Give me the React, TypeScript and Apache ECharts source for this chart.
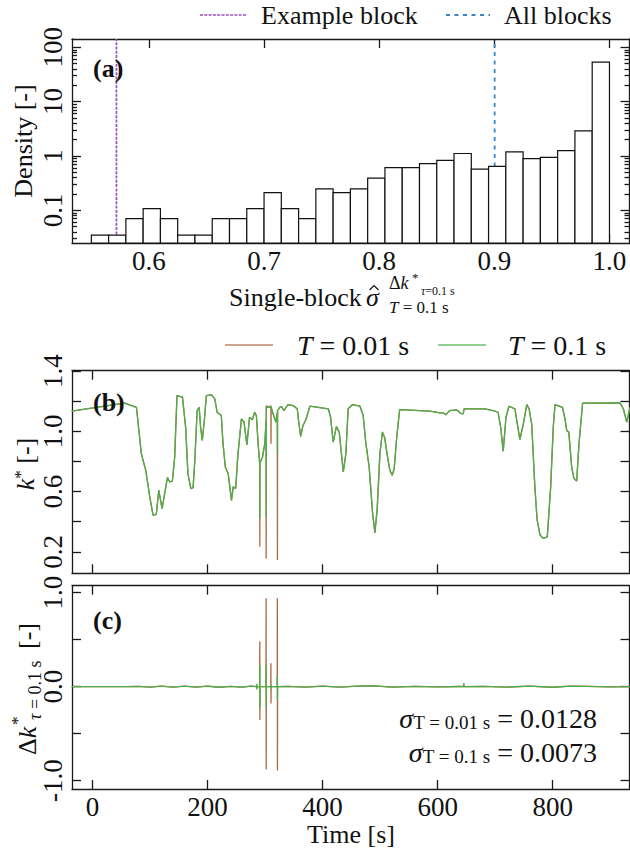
import React, { useEffect, useRef } from "react";
import * as echarts from "echarts";

const FONT = "'Liberation Serif', 'Times New Roman', Times, serif";
const INK = "#111111";

// ---------------- Panel (a): histogram ----------------
const binEdges = [
  0.55, 0.565, 0.58, 0.595, 0.61, 0.625, 0.64, 0.655, 0.67, 0.685, 0.7, 0.715,
  0.73, 0.745, 0.76, 0.775, 0.79, 0.805, 0.82, 0.835, 0.85, 0.865, 0.88, 0.895,
  0.91, 0.925, 0.94, 0.955, 0.97, 0.985, 1.0,
];
const densities = [
  0.035, 0.035, 0.07, 0.107, 0.07, 0.035, 0.035, 0.07, 0.07, 0.107, 0.212, 0.107,
  0.07, 0.248, 0.212, 0.248, 0.392, 0.61, 0.61, 0.72, 0.83, 1.11, 0.57, 0.645,
  1.185, 0.893, 0.945, 1.25, 2.9, 53.5,
];
const exampleBlockValue = 0.5718;
const allBlocksValue = 0.9003;
const ratioTicks = [0.6, 0.7, 0.8, 0.9, 1.0];
const densityTicks = [0.1, 1, 10, 100];
const densityMinorTicks = [
  0.03, 0.04, 0.05, 0.06, 0.07, 0.08, 0.09, 0.2, 0.3, 0.4, 0.5, 0.6, 0.7, 0.8,
  0.9, 2, 3, 4, 5, 6, 7, 8, 9, 20, 30, 40, 50, 60, 70, 80, 90,
];

// ---------------- Panel (b): k* time series ----------------
const timeTicks = [0, 200, 400, 600, 800];
const kTicks = [0.2, 0.4, 0.6, 0.8, 1.0, 1.2, 1.4];
const kLabels = [0.2, 0.6, 1.0, 1.4];
const tK = [
  -36, 56, 76.5, 82, 85, 92.7, 99.7, 105.4, 111, 115.3, 121, 130.4, 134.4, 139, 143,
  147, 156.5, 162, 166, 171, 175, 178, 182, 185.5, 188, 191, 195, 198, 207, 212.7,
  216.7, 220, 224, 227, 231, 236, 241.7, 244.6, 249, 253, 259, 263.5, 268.5, 273,
  278, 282, 285, 288, 290.8, 291.0, 291.2, 295.6, 299.6, 301.8, 302.0, 302.2, 307,
  310.2, 310.4, 310.6, 314, 319, 321.4, 321.6, 321.8, 325.7, 328.6, 332.7, 340, 349,
  356, 359, 362, 366, 371, 378, 410, 414, 418.5, 424, 429, 436, 440.5, 444.5, 452,
  465, 470.6, 475, 481, 487, 491, 495, 499.7, 504, 508, 512, 517, 521, 524.5, 528.7,
  534, 586.6, 604, 609.7, 614, 621, 633, 640, 644.5, 646, 682, 696.7, 705, 709.6, 714,
  718.8, 724, 734.4, 738.5, 743, 749, 755, 759, 763.5, 769, 773, 778, 783.6, 790.6,
  796.5, 801, 804, 817, 821.4, 824.3, 828, 833, 837, 841.7, 845.7, 852, 917, 922.8,
  928.7, 934.5,
];
// T = 0.1 s
const kT01 = [
  1.134, 1.187, 1.16, 0.962, 0.852, 0.741, 0.564, 0.443, 0.449, 0.609, 0.487, 0.693,
  0.664, 0.67, 0.829, 1.238, 1.227, 1.028, 0.719, 0.62, 0.626, 0.807, 1.138, 1.16,
  1.028, 0.94, 1.094, 1.238, 1.242, 1.216, 1.127, 1.117, 1.105, 0.918, 0.763, 0.719,
  0.542, 0.631, 0.62, 0.852, 1.083, 1.062, 0.91, 1.094, 1.077, 1.127, 1.105, 0.918,
  0.785, 0.42, 0.79, 0.829, 0.918, 1.07, 0.43, 1.16, 1.16, 1.165, 1.165, 1.16, 1.117,
  1.061, 1.127, 0.85, 1.14, 1.16, 1.165, 1.138, 1.178, 1.171, 1.15, 1.05, 0.966,
  1.039, 1.077, 1.167, 1.15, 1.094, 0.928, 1.032, 0.995, 0.73, 0.852, 1.15, 1.178,
  1.167, 1.105, 0.928, 0.763, 0.454, 0.326, 0.487, 0.852, 0.995, 0.958, 0.852, 0.741,
  0.708, 0.752, 0.951, 1.145, 1.134, 1.123, 1.123, 1.11, 1.138, 1.143, 1.12, 1.117,
  1.15, 1.15, 1.138, 1.127, 1.028, 0.869, 1.094, 1.167, 1.15, 1.05, 0.946, 1.05,
  1.178, 1.15, 1.05, 0.631, 0.41, 0.311, 0.289, 0.299, 0.631, 1.028, 1.178, 1.16,
  1.083, 1.006, 0.995, 0.763, 0.686, 0.67, 0.918, 1.187, 1.189, 1.15, 1.061, 1.16,
];
// T = 0.01 s (same trace, deeper spikes)
const kT001 = [
  1.134, 1.187, 1.16, 0.962, 0.852, 0.741, 0.564, 0.443, 0.449, 0.609, 0.487, 0.693,
  0.664, 0.67, 0.829, 1.238, 1.227, 1.028, 0.719, 0.62, 0.626, 0.807, 1.138, 1.16,
  1.028, 0.94, 1.094, 1.238, 1.242, 1.216, 1.127, 1.117, 1.105, 0.918, 0.763, 0.719,
  0.542, 0.631, 0.62, 0.852, 1.083, 1.062, 0.91, 1.094, 1.077, 1.127, 1.105, 0.918,
  0.785, 0.233, 0.79, 0.829, 0.918, 1.07, 0.156, 1.17, 1.16, 1.17, 0.918, 1.16, 1.117,
  1.061, 1.127, 0.145, 1.14, 1.16, 1.165, 1.138, 1.178, 1.171, 1.15, 1.05, 0.966,
  1.039, 1.077, 1.167, 1.15, 1.094, 0.928, 1.032, 0.995, 0.73, 0.852, 1.15, 1.178,
  1.167, 1.105, 0.928, 0.763, 0.454, 0.326, 0.487, 0.852, 0.995, 0.958, 0.852, 0.741,
  0.708, 0.752, 0.951, 1.145, 1.134, 1.123, 1.123, 1.11, 1.138, 1.143, 1.12, 1.117,
  1.15, 1.15, 1.138, 1.127, 1.028, 0.869, 1.094, 1.167, 1.15, 1.05, 0.946, 1.05,
  1.178, 1.15, 1.05, 0.631, 0.41, 0.311, 0.289, 0.299, 0.631, 1.028, 1.178, 1.16,
  1.083, 1.006, 0.995, 0.763, 0.686, 0.67, 0.918, 1.187, 1.189, 1.15, 1.061, 1.16,
];

// ---------------- Panel (c): difference series ----------------
const dTicks = [-1, -0.5, 0, 0.5, 1];
const dLabels = [-1, 0, 1];
const tD = [
  -36, 60, 80, 100, 120, 140, 160, 180, 200, 220, 240, 260, 275, 285.3, 285.5, 285.7,
  285.9, 290.7, 290.9, 291.1, 291.3, 301.7, 301.9, 302.1, 302.3, 310.0, 310.2, 310.4,
  310.6, 321.2, 321.4, 321.6, 321.8, 340, 370, 400, 430, 460, 490, 520, 560, 600, 640,
  645.3, 645.5, 645.8, 680, 720, 760, 800, 830, 860, 900, 934,
];
const dT001 = [
  0, 0, 0.003, -0.004, 0.006, -0.005, 0.007, -0.004, 0.005, -0.006, 0.004, -0.005,
  0.006, 0, 0.02, -0.02, 0, 0, 0.48, -0.354, 0, 0, 0.94, -0.88, 0, 0, 0.25, -0.18, 0,
  0, 0.94, -0.89, 0, 0.004, -0.005, 0.006, -0.004, 0.005, 0.008, -0.004, 0.004,
  -0.003, 0.002, 0, 0.036, 0, 0.003, -0.004, 0.005, -0.006, 0.006, 0.004, -0.003, 0,
];
const dT01 = [
  0, 0, 0.003, -0.004, 0.006, -0.005, 0.007, -0.004, 0.005, -0.006, 0.004, -0.005,
  0.006, 0, 0.03, -0.03, 0, 0, 0.23, -0.23, 0, 0, 0.23, -0.23, 0, 0, 0.02, -0.02, 0,
  0, 0.125, -0.14, 0, 0.004, -0.005, 0.006, -0.004, 0.005, 0.008, -0.004, 0.004,
  -0.003, 0.002, 0, 0.036, 0, 0.003, -0.004, 0.005, -0.006, 0.006, 0.004, -0.003, 0,
];

// ---------------- layout / styling ----------------
const RATIO_MIN = 0.5332;
const RATIO_MAX = 1.0174;
const DENS_MIN = 0.025;
const DENS_MAX = 142;
const TIME_MIN = -35.5;
const TIME_MAX = 933.5;
const K_MIN = 0.057;
const K_MAX = 1.403;
const D_MIN = -1.088;
const D_MAX = 1.074;

const PURPLE = "#9b4fbd";
const BLUE = "#3a86c6";
const BROWN = "#a65628";
const GREEN = "#4daf4a";

const TICK_FONT = 27;
const lineStyleAxis = { color: "#1a1a1a", width: 1.3 };

function fmt(v: number) {
  return String(parseFloat(Number(v).toPrecision(4)));
}

function axis(
  gridIndex: number,
  position: string,
  type: string,
  min: number,
  max: number,
  ticks: number[],
  tickLen: number,
  labels?: number[],
  labelFmt?: (v: number) => string,
  showLine = true
) {
  const a: any = {
    type,
    gridIndex,
    position,
    min,
    max,
    axisLine: { show: showLine, onZero: false, lineStyle: lineStyleAxis },
    axisTick: {
      show: true,
      inside: true,
      length: tickLen,
      customValues: ticks,
      lineStyle: lineStyleAxis,
    },
    splitLine: { show: false },
    minorTick: { show: false },
    axisLabel: { show: false },
  };
  if (type === "log") a.logBase = 10;
  if (labels) {
    a.axisLabel = {
      show: true,
      customValues: labels,
      formatter: labelFmt || ((v: number) => fmt(v)),
      fontFamily: FONT,
      fontSize: TICK_FONT,
      color: INK,
      margin: 4,
      showMinLabel: true,
      showMaxLabel: true,
    };
  }
  return a;
}

function txt(x: number, y: number, text: string, o: any = {}) {
  return {
    type: "text",
    x,
    y,
    z: 100,
    rotation: o.rotation || 0,
    style: {
      text,
      fill: INK,
      fontFamily: FONT,
      fontSize: o.size || 26,
      fontWeight: o.weight || "normal",
      fontStyle: o.style || "normal",
      textAlign: o.align || "left",
      align: o.align || "left",
      textVerticalAlign: "middle",
      verticalAlign: "middle",
      rich: o.rich,
    },
  };
}

function seg(x1: number, y1: number, x2: number, y2: number, color: string, dash?: number[], width = 1.5, opacity = 1) {
  return {
    type: "line",
    z: 100,
    shape: { x1, y1, x2, y2 },
    style: { stroke: color, lineWidth: width, lineDash: dash, opacity },
  };
}

const it = (size: number) => ({ fontFamily: FONT, fontSize: size, fontStyle: "italic", fill: INK });
const up = (size: number, va?: string) => ({ fontFamily: FONT, fontSize: size, fill: INK, verticalAlign: va });

export default function App() {
  const ref = useRef<HTMLDivElement>(null);

  useEffect(() => {
    if (!ref.current) return;
    const chart = echarts.init(ref.current, null, { renderer: "svg", width: 630, height: 852 });

    const histData = densities.map((d, i) => [binEdges[i], binEdges[i + 1], d]);

    const option: any = {
      animation: false,
      backgroundColor: "#ffffff",
      textStyle: { fontFamily: FONT },
      grid: [
        { left: 72, top: 39, width: 557.5, height: 204, outerBoundsMode: "none" },
        { left: 72, top: 370.7, width: 557.5, height: 202.6, outerBoundsMode: "none" },
        { left: 72, top: 585.7, width: 557.5, height: 203.3, outerBoundsMode: "none" },
      ],
      xAxis: [
        axis(0, "bottom", "value", RATIO_MIN, RATIO_MAX, ratioTicks, 9, ratioTicks, (v) => Number(v).toFixed(1)),
        axis(0, "top", "value", RATIO_MIN, RATIO_MAX, ratioTicks, 9),
        axis(1, "bottom", "value", TIME_MIN, TIME_MAX, timeTicks, 9),
        axis(1, "top", "value", TIME_MIN, TIME_MAX, timeTicks, 9),
        axis(2, "bottom", "value", TIME_MIN, TIME_MAX, timeTicks, 9, timeTicks, (v) => String(Math.round(v))),
        axis(2, "top", "value", TIME_MIN, TIME_MAX, timeTicks, 9),
      ],
      yAxis: [
        axis(0, "left", "log", DENS_MIN, DENS_MAX, densityTicks, 9),
        axis(0, "left", "log", DENS_MIN, DENS_MAX, densityMinorTicks, 5, undefined, undefined, false),
        axis(0, "right", "log", DENS_MIN, DENS_MAX, densityTicks, 9),
        axis(0, "right", "log", DENS_MIN, DENS_MAX, densityMinorTicks, 5, undefined, undefined, false),
        axis(1, "left", "value", K_MIN, K_MAX, kTicks, 9),
        axis(1, "right", "value", K_MIN, K_MAX, kTicks, 9),
        axis(2, "left", "value", D_MIN, D_MAX, dTicks, 9),
        axis(2, "right", "value", D_MIN, D_MAX, dTicks, 9),
      ],
      series: [
        {
          type: "line",
          xAxisIndex: 0,
          yAxisIndex: 0,
          z: 1,
          symbol: "none",
          data: [
            [exampleBlockValue, DENS_MIN],
            [exampleBlockValue, DENS_MAX],
          ],
          lineStyle: { color: PURPLE, width: 1.7, type: [3, 1.3] },
        },
        {
          type: "line",
          xAxisIndex: 0,
          yAxisIndex: 0,
          z: 1,
          symbol: "none",
          data: [
            [allBlocksValue, DENS_MIN],
            [allBlocksValue, DENS_MAX],
          ],
          lineStyle: { color: BLUE, width: 1.8, type: [4, 4.5] },
        },
        {
          type: "custom",
          xAxisIndex: 0,
          yAxisIndex: 0,
          z: 3,
          encode: { x: [0, 1], y: 2 },
          data: histData,
          renderItem: (params: any, api: any) => {
            const pTop = api.coord([api.value(0), api.value(2)]);
            const pBot = api.coord([api.value(1), DENS_MIN]);
            return {
              type: "rect",
              shape: { x: pTop[0], y: pTop[1], width: pBot[0] - pTop[0], height: pBot[1] - pTop[1] },
              style: { fill: "#ffffff", stroke: "#111111", lineWidth: 1.2 },
            };
          },
        },
        {
          type: "line",
          xAxisIndex: 2,
          yAxisIndex: 4,
          z: 2,
          symbol: "none",
          data: tK.map((t, i) => [t, kT001[i]]),
          lineStyle: { color: BROWN, width: 1.3, opacity: 0.9 },
        },
        {
          type: "line",
          xAxisIndex: 2,
          yAxisIndex: 4,
          z: 3,
          symbol: "none",
          data: tK.map((t, i) => [t, kT01[i]]),
          lineStyle: { color: GREEN, width: 1.3 },
        },
        {
          type: "line",
          xAxisIndex: 4,
          yAxisIndex: 6,
          z: 2,
          symbol: "none",
          data: tD.map((t, i) => [t, dT001[i]]),
          lineStyle: { color: BROWN, width: 1.3, opacity: 0.9 },
        },
        {
          type: "line",
          xAxisIndex: 4,
          yAxisIndex: 6,
          z: 3,
          symbol: "none",
          data: tD.map((t, i) => [t, dT01[i]]),
          lineStyle: { color: GREEN, width: 1.3 },
        },
      ],
    };

    chart.setOption(option);

    // rotated y tick labels, placed through the axes' own scales
    const yLabels: any[] = [];
    const addY = (axisIndex: number, values: number[], f: (v: number) => string) => {
      values.forEach((v) => {
        const py = chart.convertToPixel({ yAxisIndex: axisIndex } as any, v) as unknown as number;
        yLabels.push(txt(53, py, f(v), { rotation: Math.PI / 2, align: "center", size: TICK_FONT }));
      });
    };
    addY(0, densityTicks, (v) => fmt(v));
    addY(4, kLabels, (v) => Number(v).toFixed(1));
    addY(6, dLabels, (v) => Number(v).toFixed(1));

    const graphic: any[] = [
      // legend (a)
      seg(200, 15, 246, 15, PURPLE, [3, 1.3], 1.7),
      txt(261, 15, "Example block"),
      seg(446, 15, 490, 15, BLUE, [4, 4.5], 1.8),
      txt(504, 15, "All blocks"),
      // legend (b)
      seg(225, 345, 273, 345, BROWN, undefined, 1.5, 0.7),
      txt(297, 345, "{i|T} = 0.01 s", { rich: { i: it(28) }, size: 28 }),
      seg(438, 345, 486, 345, GREEN, undefined, 1.5, 0.8),
      txt(508, 345, "{i|T} = 0.1 s", { rich: { i: it(28) }, size: 28 }),
      // panel letters
      txt(93, 68, "(a)", { weight: "bold" }),
      txt(93, 402, "(b)", { weight: "bold" }),
      txt(93, 620, "(c)", { weight: "bold" }),
      // y titles
      txt(23, 141, "Density [-]", { rotation: Math.PI / 2, align: "center" }),
      txt(25, 464, "{i|k}{s|*} [-]", {
        rotation: Math.PI / 2,
        align: "center",
        rich: { i: it(26), s: up(17, "top") },
      }),
      {
        type: "group",
        x: 27,
        y: 687,
        rotation: Math.PI / 2,
        children: [
          txt(-68, 0, "Δ{i|k}", { rich: { i: it(26) } }),
          txt(-38, -10, "*", { size: 17 }),
          txt(-33, 8, "{i|τ} = 0.1 s", { size: 18, rich: { i: it(18) } }),
          txt(38, 0, "[-]"),
        ],
      },
      // x titles
      txt(229, 297, "Single-block"),
      txt(366, 297, "σ", { style: "italic" }),
      {
        type: "polyline",
        z: 100,
        shape: { points: [[369.5, 290], [374, 285.5], [378.5, 290]] },
        style: { stroke: INK, lineWidth: 1.2, fill: null },
      },
      txt(389, 283, "Δ{i|k}", { size: 18, rich: { i: it(18) } }),
      txt(412, 277, "*", { size: 13 }),
      txt(421, 291, "{i|τ}=0.1 s", { size: 12, rich: { i: it(12) } }),
      txt(389, 307, "{i|T} = 0.1 s", { size: 17, rich: { i: it(17) } }),
      txt(351, 834, "Time [s]", { align: "center" }),
      // annotation (c)
      txt(597, 718, "{s|σ}{b|T = 0.01 s}{n| = 0.0128}", {
        align: "right",
        rich: { s: it(28), b: up(19, "bottom"), n: up(28) },
      }),
      txt(597, 752, "{s|σ}{b|T = 0.1 s}{n| = 0.0073}", {
        align: "right",
        rich: { s: it(28), b: up(19, "bottom"), n: up(28) },
      }),
      ...yLabels,
    ];

    chart.setOption({ graphic });

    return () => {
      chart.dispose();
    };
  }, []);

  return (
    <div
      ref={ref}
      style={{ position: "absolute", left: 0, top: 0, width: 630, height: 852, background: "#fff" }}
    />
  );
}
